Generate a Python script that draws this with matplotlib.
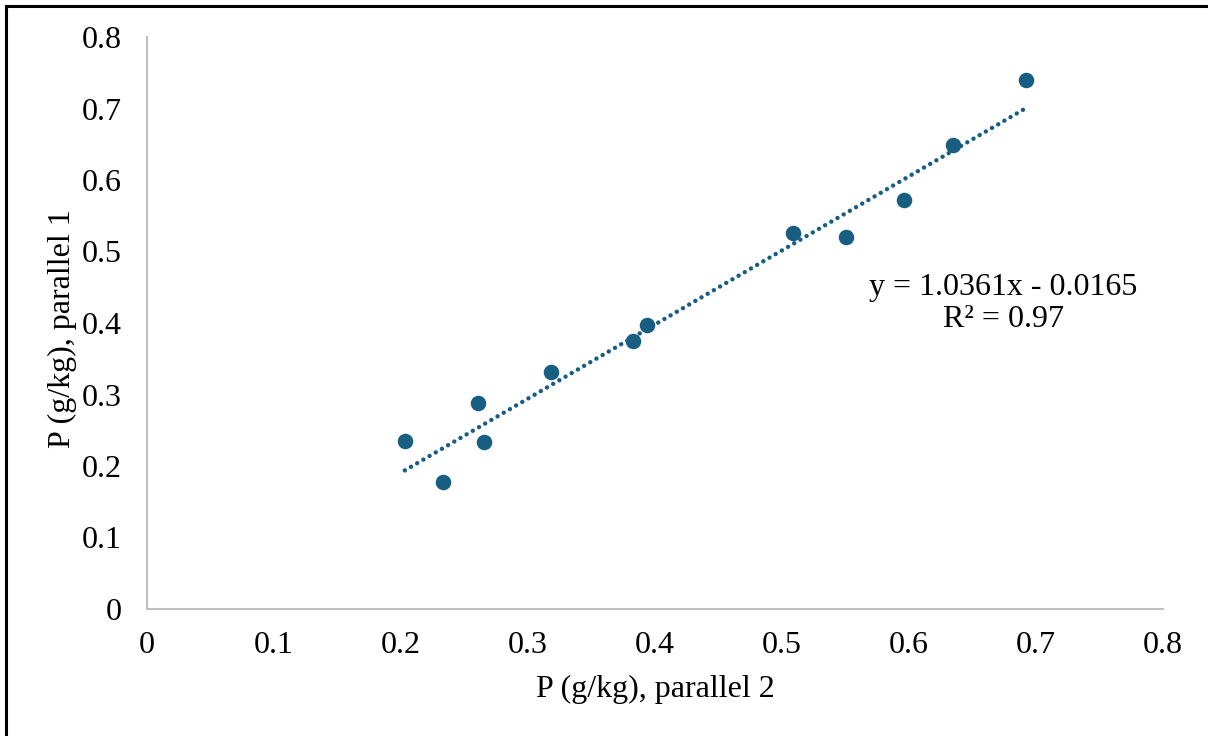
import matplotlib
matplotlib.use("Agg")
import matplotlib.pyplot as plt
from matplotlib.lines import Line2D
import numpy as np

x_vals = [0.203, 0.233, 0.261, 0.265, 0.318, 0.383, 0.394, 0.509, 0.550, 0.596, 0.635, 0.692]
y_vals = [0.235, 0.178, 0.288, 0.234, 0.331, 0.375, 0.397, 0.526, 0.520, 0.572, 0.649, 0.740]
slope = 1.0361
intercept = -0.0165
r2_text = "R² = 0.97"
ticks = [0, 0.1, 0.2, 0.3, 0.4, 0.5, 0.6, 0.7, 0.8]
tick_labels = ["0", "0.1", "0.2", "0.3", "0.4", "0.5", "0.6", "0.7", "0.8"]
xlabel = "P (g/kg), parallel 2"
ylabel = "P (g/kg), parallel 1"

plt.rcParams['font.family'] = ['Liberation Serif', 'DejaVu Serif']
W, H = 1208, 736
fig = plt.figure(figsize=(W/100, H/100), dpi=100)
ax = fig.add_axes([147/W, 1-609/H, (1163-147)/W, (609-37)/H])
color = '#175e82'
FS = 23

ax.scatter(x_vals, y_vals, s=125, color=color, zorder=3, linewidths=0)
xs = np.array([min(x_vals), max(x_vals)])
ax.plot(xs, slope*xs + intercept, color=color, lw=3.2,
        linestyle=(0, (0.01, 1.6)), dash_capstyle='round', zorder=2)

ax.set_xlim(0, 0.8)
ax.set_ylim(0, 0.8)
ax.set_xticks(ticks)
ax.set_xticklabels(tick_labels)
ax.set_yticks(ticks)
ax.set_yticklabels(tick_labels)
ax.tick_params(length=0, labelsize=FS, colors='black')
ax.tick_params(axis='x', pad=16)
ax.tick_params(axis='y', pad=18)
for s in ['top', 'right']:
    ax.spines[s].set_visible(False)
for s in ['left', 'bottom']:
    ax.spines[s].set_color('#bfbfbf')
    ax.spines[s].set_linewidth(1.5)

ax.set_xlabel(xlabel, fontsize=FS)
ax.set_ylabel(ylabel, fontsize=FS)
ax.xaxis.set_label_coords(0.5, (609-689)/572)
ax.xaxis.label.set_va('center')
ax.yaxis.set_label_coords((62-147)/1016, (609-329)/572)
ax.yaxis.label.set_va('center')

eq = f"y = {slope:.4f}x - {abs(intercept):.4f}"
fig.text(1003/W, 1-287/H, eq, fontsize=FS, ha='center', va='center')
fig.text(1003/W, 1-320/H, r2_text, fontsize=FS, ha='center', va='center')

# figure frame (top and left edges)
fig.add_artist(Line2D([6/W, 1], [1-6/H, 1-6/H], color='black', lw=2.2, transform=fig.transFigure))
fig.add_artist(Line2D([6/W, 6/W], [0, 1-6/H], color='black', lw=2.2, transform=fig.transFigure))

fig.savefig("out.png", dpi=100)
